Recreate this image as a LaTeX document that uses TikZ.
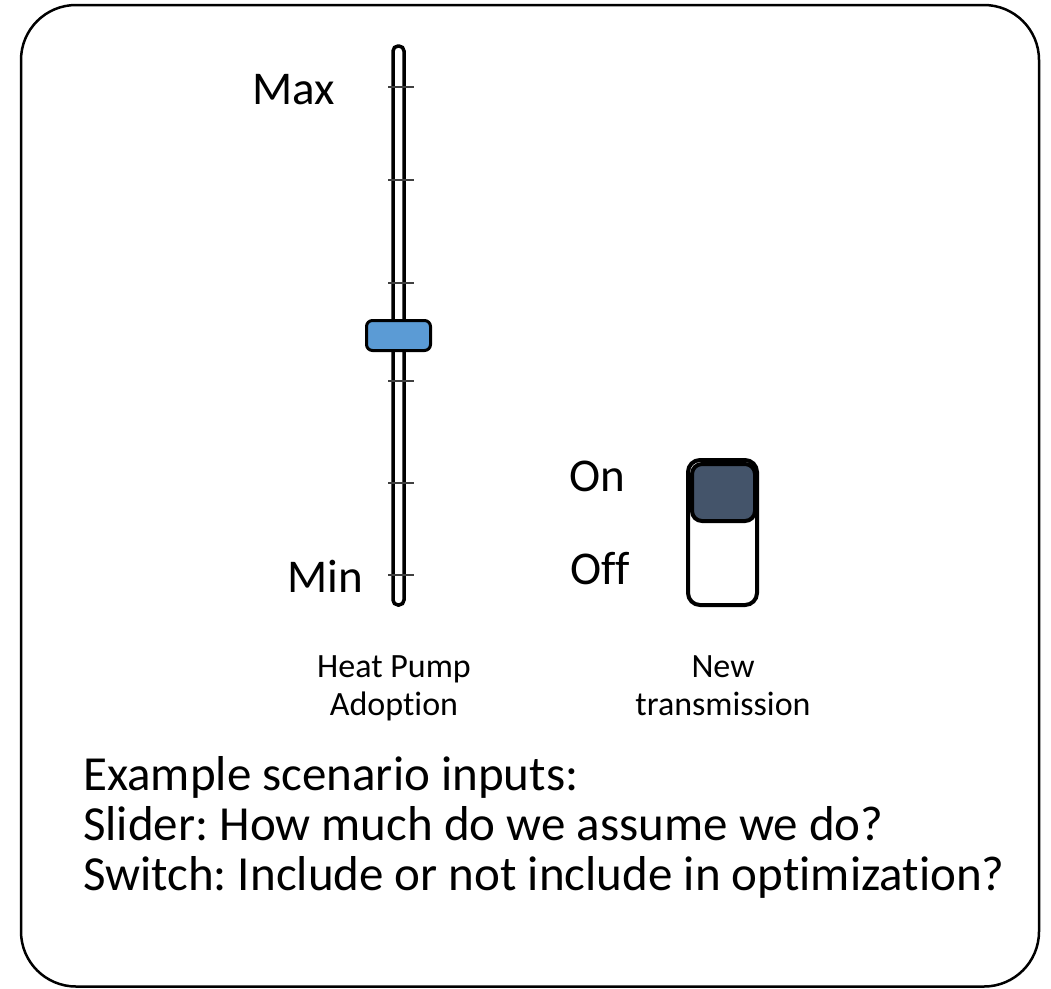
\documentclass[tikz,border=0pt]{standalone}
\usepackage{fontspec}
\setmainfont[Ligatures={NoCommon}]{Carlito}
\frenchspacing
\definecolor{knobblue}{HTML}{5B9BD5}
\definecolor{knobdark}{HTML}{44546A}
\definecolor{tickgray}{HTML}{404040}
\begin{document}
\begin{tikzpicture}[x=1pt,y=-1pt,
  frame/.style={draw=black,line width=2.5pt,rounded corners=55pt},
  track/.style={draw=black,fill=white,line width=3.5pt,rounded corners=5pt},
  tickline/.style={draw=tickgray,line width=1.3pt},
  sliderknob/.style={draw=black,fill=knobblue,line width=3pt,rounded corners=6pt},
  switchbody/.style={draw=black,fill=white,line width=4pt,rounded corners=12pt},
  switchknob/.style={draw=black,fill=knobdark,line width=4pt,rounded corners=10pt},
  biglabel/.style={font=\fontsize{47}{50}\selectfont,inner sep=0pt,anchor=base},
  smalllabel/.style={font=\fontsize{34}{38}\selectfont,inner sep=0pt,anchor=base},
  bodytext/.style={font=\fontsize{49}{50}\selectfont,inner sep=0pt,anchor=base west}
]
\useasboundingbox (0,0) rectangle (1051,988);
\draw[frame] (21,5) rectangle (1039,986.5);
% slider track
\draw[track] (393,46) rectangle (404,605);
\foreach \yy/\nm in {87/t1,180/t2,283/t3,381/t4,483/t5,575/t6}{
  \coordinate (\nm a) at (388,\yy);
  \coordinate (\nm b) at (414,\yy);
  \draw[tickline] (\nm a) -- (\nm b);
}
\draw[sliderknob] (366.5,320.5) rectangle (430.5,350.5);
% switch
\draw[switchbody] (688,460) rectangle (757,605);
\draw[switchknob] (692,464) rectangle (755,521);
% labels
\node[biglabel] (max) at (294,104) {Max};
\node[biglabel] (min) at (325,592) {Min};
\node[biglabel] (on) at (597,491) {On};
\node[biglabel] (off) at (600,584) {Off};
\node[smalllabel] (hp1) at (394,677) {Heat Pump};
\node[smalllabel] (hp2) at (394,715) {Adoption};
\node[smalllabel] (nt1) at (723,677) {New};
\node[smalllabel] (nt2) at (723,715) {transmission};
\node[bodytext] (l1) at (83,790) {Example scenario inputs:};
\node[bodytext] (l2) at (83,840) {Slider: How much do we assume we do?};
\node[bodytext] (l3) at (83,890) {Switch: Include or not include in optimization?};
\end{tikzpicture}
\end{document}
